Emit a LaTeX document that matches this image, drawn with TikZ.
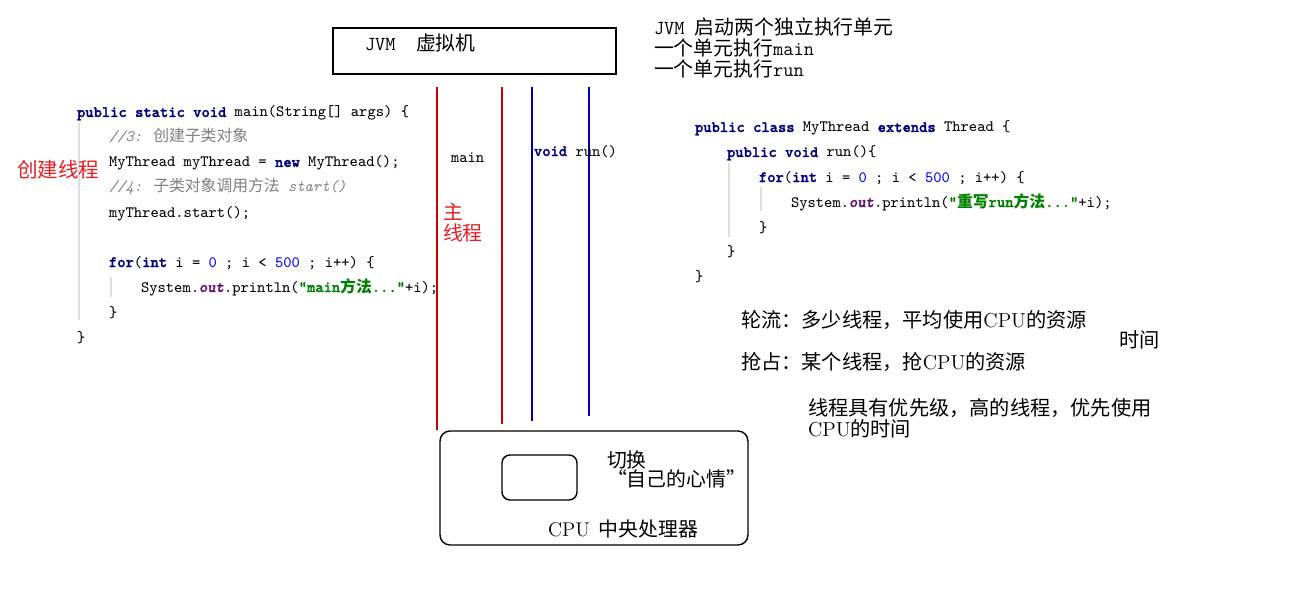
\documentclass[tikz,border=0pt]{standalone}
\usepackage{fontspec}
\newfontfamily\cjk{Noto Sans CJK SC}
\newfontfamily\ttbold{lmmonolt10-bold.otf}[FakeBold=1.5]
\newfontfamily\ttboldit{lmmonolt10-boldoblique.otf}[FakeBold=1.5]
\usetikzlibrary{positioning}
\definecolor{kwblue}{RGB}{0,0,128}
\definecolor{numblue}{RGB}{0,0,255}
\definecolor{cmtgray}{RGB}{128,128,128}
\definecolor{strgreen}{RGB}{0,128,0}
\definecolor{fldpurple}{RGB}{102,14,122}
\definecolor{thrred}{RGB}{200,0,0}
\definecolor{thrblue}{RGB}{0,0,170}
\definecolor{notered}{RGB}{228,30,36}
\definecolor{guidegray}{RGB}{222,222,222}
\newcommand\zh[1]{{\cjk #1}}
\newcommand\kw[1]{{\ttbold\color{kwblue}#1}}
\newcommand\nm[1]{{\color{numblue}#1}}
\newcommand\cm[1]{{\color{cmtgray}\itshape #1}}
\newcommand\cmzh[1]{{\color{cmtgray}\cjk #1}}
\newcommand\fld[1]{{\ttboldit\color{fldpurple}#1}}
\newcommand\str[1]{{\ttbold\bfseries\color{strgreen}#1}}

\begin{document}
\begin{tikzpicture}[x=0.02cm, y=-0.02cm, line width=0.6pt,
    every node/.append style={inner sep=0pt, outer sep=0pt},
    code/.style={anchor=base west, font=\ttfamily\fontsize{9}{10}\selectfont},
    head/.style={anchor=base west, font=\ttfamily\fontsize{11.3}{13}\selectfont},
    note/.style={anchor=base west, font=\cjk\fontsize{11.5}{13}\selectfont},
    redtext/.style={anchor=base west, text=notered, font=\cjk\fontsize{11.7}{13}\selectfont},
    box/.style={draw, line width=0.8pt, anchor=north west},
    guide/.style={draw=guidegray, line width=0.6pt}]
  \useasboundingbox[fill=white] (0,0) rectangle (1300,601);

  % JVM box and threads
  \node (jvm) [box, minimum width=5.66cm, minimum height=0.92cm] at (333,28) {};
  \node (jvmtext) [head] at (365,51) {JVM\ \ \zh{虚拟机}};
  \foreach \x/\y/\c/\n in {437/430/thrred/mainA, 502/424/thrred/mainB,
                           532/421/thrblue/runA, 589/416/thrblue/runB} {
    \coordinate (\n top) at (\x,87);
    \coordinate (\n bot) at (\x,\y);
    \draw[draw=\c] (\n top) -- (\n bot);
  }
  \node (mainlabel) [code] at (451,163) {main};
  \node (runlabel) [code] at (534,156) {\kw{void} run()};
  \node (zhu) [redtext, font=\cjk\fontsize{11.3}{13}\selectfont] at (443,219) {主};
  \node (zhuxc) [redtext, font=\cjk\fontsize{11.3}{13}\selectfont] at (443,240) {线程};

  % main method
  \draw[guide] (79,123) -- (79,320);
  \draw[guide] (111,277) -- (111,297);
  \node (mainsig) [code] at (77,117) {\kw{public static void} main(String[] args) \{};
  \node (cmt3) [code] at (109,142) {\cm{//3:} \cmzh{创建子类对象}};
  \node (newthr) [code] at (109,167) {MyThread myThread = \kw{new} MyThread();};
  \node (cmt4) [code] at (109,192) {\cm{//4:} \cmzh{子类对象调用方法} \cm{start()}};
  \node (start) [code] at (109,217) {myThread.start();};
  \node (mainfor) [code] at (109,267) {\kw{for}(\kw{int} i = \nm{0} ; i < \nm{500} ; i++) \{};
  \node (mainprint) [code] at (141,292) {System.\fld{out}.println(\str{"main\zh{方法}..."}+i);};
  \node (mainforend) [code] at (109,317) {\}};
  \node (mainend) [code] at (77,342) {\}};
  \node (create) [redtext] at (17,177) {创建线程};

  % MyThread class
  \draw[guide] (729,163) -- (729,237);
  \draw[guide] (761,187) -- (761,211);
  \node (cls) [code] at (695,132) {\kw{public class} MyThread \kw{extends} Thread \{};
  \node (run) [code] at (727,157) {\kw{public void} run()\{};
  \node (runfor) [code] at (759,182) {\kw{for}(\kw{int} i = \nm{0} ; i < \nm{500} ; i++) \{};
  \node (runprint) [code] at (791,207) {System.\fld{out}.println(\str{"\zh{重写}run\zh{方法}..."}+i);};
  \node (runforend) [code] at (759,232) {\}};
  \node (runend) [code] at (727,256) {\}};
  \node (clsend) [code] at (695,281) {\}};

  % notes
  \node (head1) [head] at (654,35) {JVM \zh{启动两个独立执行单元}};
  \node (head2) [head] at (654,56) {\zh{一个单元执行}main};
  \node (head3) [head] at (654,77) {\zh{一个单元执行}run};
  \node (turn) [note] at (741,327) {轮流：多少线程，平均使用{\rmfamily CPU}的资源};
  \node (time) [note] at (1119,347) {时间};
  \node (grab) [note] at (741,369) {抢占：某个线程，抢{\rmfamily CPU}的资源};
  \node (prio) [note] at (808,415) {线程具有优先级，高的线程，优先使用};
  \node (prio2) [note] at (808,436) {{\rmfamily CPU}的时间};

  % CPU
  \node (cpu) [box, rounded corners=0.2cm, minimum width=6.16cm, minimum height=2.28cm] at (440,431) {};
  \node (core) [box, rounded corners=0.16cm, minimum width=1.5cm, minimum height=0.9cm] at (502,455) {};
  \node (switch) [note, font=\cjk\fontsize{11.3}{13}\selectfont] at (607,467) {切换};
  \node (mood) [note, font=\cjk\fontsize{11.3}{13}\selectfont] at (607,486) {“自己的心情”};
  \node (cputext) [note, font=\cjk\fontsize{11.3}{13}\selectfont] at (548,536) {{\rmfamily CPU}\ \ 中央处理器};
\end{tikzpicture}
\end{document}
